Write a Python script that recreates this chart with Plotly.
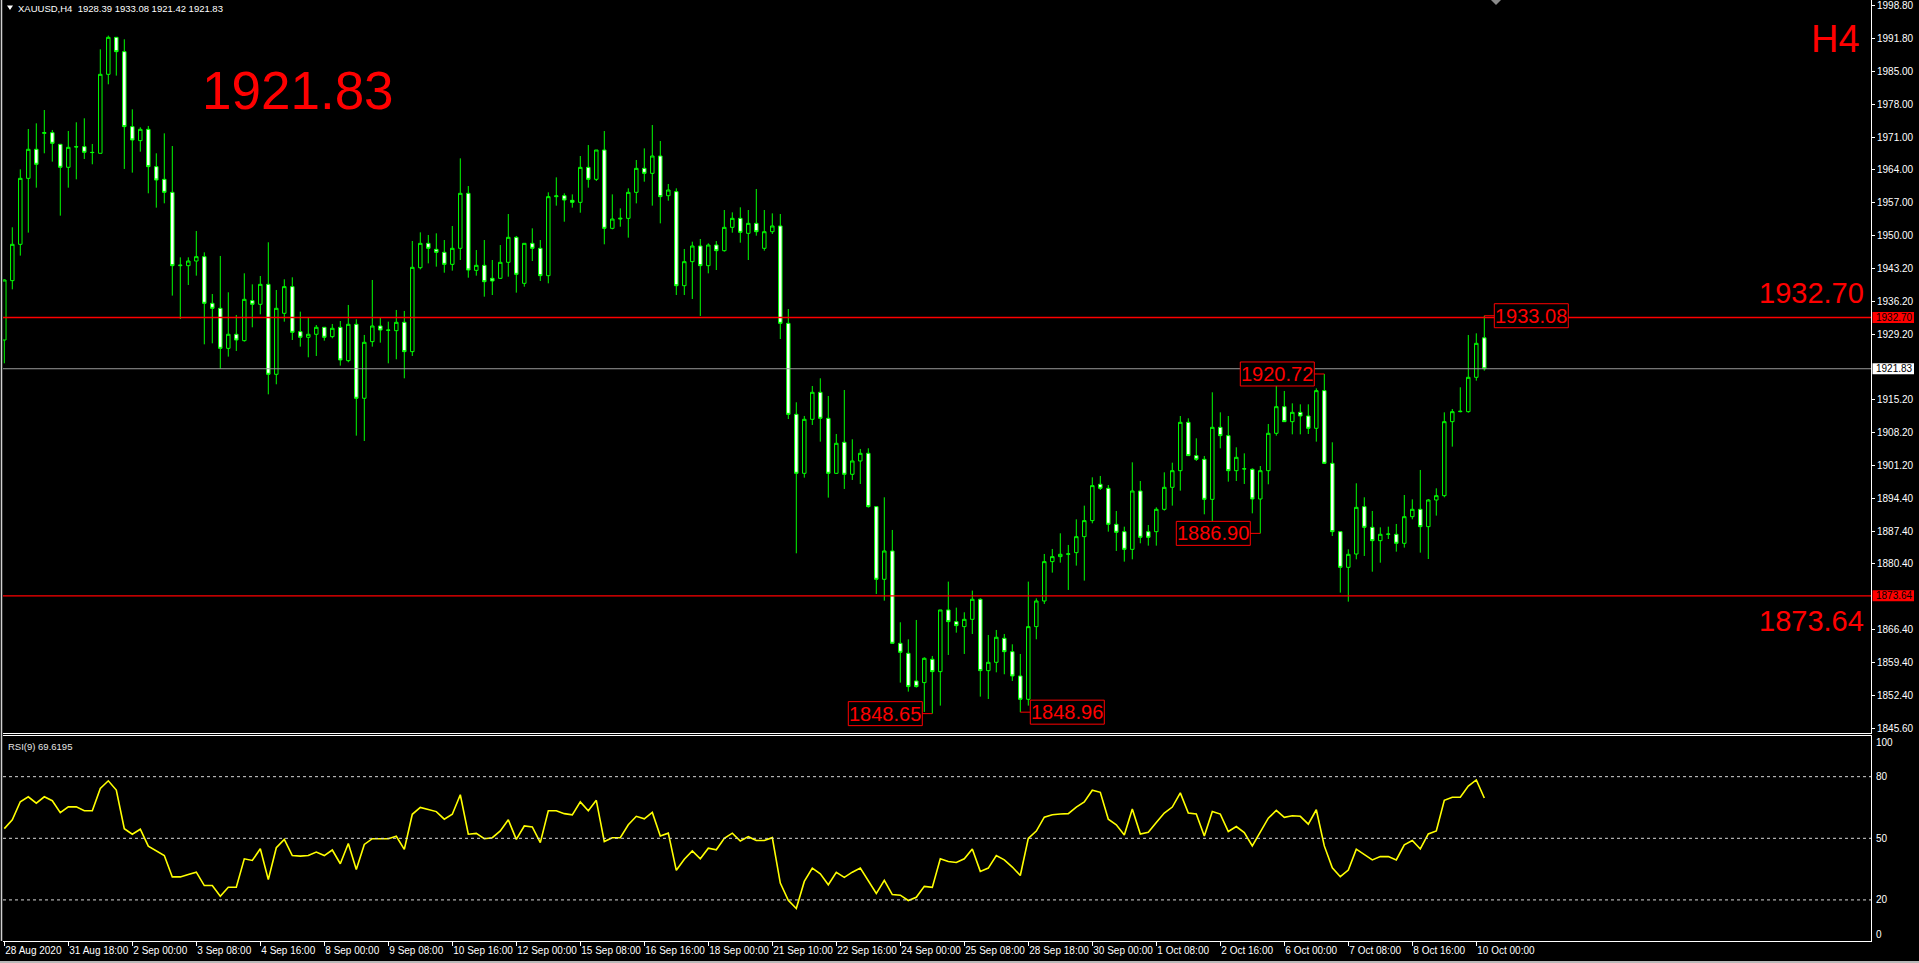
import plotly.graph_objects as go

# ---------------- data ----------------
opens = [1927.93, 1940.52, 1948.23, 1962.23, 1968.39, 1971.78, 1971.92, 1969.45, 1964.57, 1968.95,
         1968.95, 1967.75, 1967.54, 1984.30, 1992.15, 1989.11, 1973.20, 1970.23, 1972.63, 1964.71,
         1962.02, 1959.26, 1943.70, 1943.70, 1944.69, 1945.61, 1935.71, 1934.65, 1926.16, 1929.14,
         1927.79, 1936.28, 1935.50, 1939.74, 1920.65, 1933.59, 1939.25, 1929.70, 1928.50, 1929.14,
         1930.62, 1928.64, 1930.62, 1923.55, 1931.26, 1915.56, 1927.58, 1930.90, 1930.05, 1929.91,
         1931.68, 1925.46, 1943.27, 1948.44, 1947.16, 1946.53, 1943.98, 1947.38, 1959.05, 1942.71,
         1943.77, 1941.01, 1941.01, 1944.41, 1949.71, 1939.95, 1948.44, 1947.38, 1941.58, 1958.34,
         1958.55, 1957.56, 1957.14, 1964.56, 1962.02, 1968.24, 1951.62, 1953.60, 1953.74, 1959.26,
         1964.35, 1963.29, 1966.97, 1958.55, 1959.40, 1939.45, 1944.55, 1947.87, 1943.70, 1948.08,
         1946.88, 1951.83, 1953.74, 1950.56, 1952.68, 1947.38, 1950.91, 1952.12, 1931.46, 1912.16,
         1899.64, 1911.10, 1916.83, 1911.31, 1899.64, 1906.22, 1899.43, 1902.26, 1903.89, 1892.57,
         1877.15, 1883.16, 1863.57, 1861.45, 1855.58, 1855.23, 1860.18, 1857.56, 1870.65, 1868.17,
         1867.11, 1868.66, 1872.91, 1857.77, 1859.54, 1864.63, 1861.80, 1856.64, 1851.69, 1867.11,
         1872.55, 1880.90, 1881.96, 1882.46, 1882.81, 1886.20, 1889.60, 1897.31, 1896.46, 1888.82,
         1887.26, 1883.51, 1895.89, 1887.26, 1887.26, 1892.00, 1896.67, 1900.20, 1910.46, 1903.39,
         1902.61, 1894.12, 1909.40, 1907.63, 1900.20, 1900.56, 1900.49, 1894.19, 1900.20, 1908.13,
         1913.78, 1910.60, 1912.58, 1911.80, 1909.19, 1917.18, 1901.76, 1887.26, 1879.69, 1882.52,
         1892.57, 1888.18, 1885.35, 1886.70, 1886.70, 1884.79, 1890.44, 1892.00, 1888.32, 1893.98,
         1894.90, 1910.60, 1912.72, 1912.72, 1920.01, 1928.39]

highs = [1940.80, 1951.84, 1964.14, 1972.70, 1973.90, 1976.73, 1972.49, 1969.45, 1972.28, 1974.12,
         1974.97, 1969.52, 1989.61, 1992.51, 1992.15, 1991.73, 1976.87, 1973.06, 1973.34, 1967.54,
         1971.78, 1969.09, 1945.47, 1945.47, 1951.06, 1946.53, 1937.69, 1945.76, 1938.05, 1933.24,
         1942.08, 1939.74, 1941.51, 1948.66, 1938.54, 1940.80, 1941.23, 1933.94, 1932.67, 1931.11,
         1930.62, 1931.33, 1931.96, 1935.36, 1932.32, 1929.00, 1940.66, 1932.67, 1931.82, 1934.30,
         1934.09, 1948.94, 1950.77, 1950.21, 1950.56, 1949.14, 1952.12, 1966.47, 1960.60, 1947.02,
         1949.14, 1944.90, 1948.08, 1954.66, 1950.00, 1948.44, 1951.62, 1949.14, 1959.26, 1962.44,
         1959.05, 1958.83, 1966.97, 1969.30, 1968.24, 1972.27, 1958.83, 1955.86, 1960.11, 1966.12,
         1968.59, 1973.55, 1970.15, 1961.03, 1960.11, 1947.24, 1948.79, 1949.36, 1948.44, 1948.93,
         1955.51, 1955.01, 1956.08, 1955.51, 1959.97, 1955.51, 1954.80, 1954.66, 1934.50, 1914.71,
         1911.81, 1918.17, 1919.80, 1916.05, 1907.99, 1917.32, 1906.86, 1904.81, 1904.95, 1892.57,
         1894.55, 1887.62, 1868.03, 1864.42, 1868.52, 1860.60, 1860.89, 1870.65, 1876.66, 1871.14,
         1870.15, 1874.75, 1873.12, 1865.34, 1866.40, 1865.55, 1863.36, 1861.31, 1876.66, 1873.12,
         1882.53, 1883.59, 1886.91, 1884.44, 1889.88, 1892.78, 1898.79, 1899.08, 1897.16, 1891.65,
         1888.32, 1901.97, 1898.01, 1888.68, 1892.42, 1899.85, 1901.90, 1911.80, 1911.31, 1907.07,
         1903.32, 1916.83, 1912.58, 1911.80, 1905.16, 1903.88, 1900.70, 1901.19, 1910.11, 1918.52,
         1917.11, 1914.49, 1914.28, 1914.28, 1917.67, 1920.72, 1906.22, 1887.26, 1883.51, 1897.52,
         1894.55, 1891.65, 1888.18, 1888.32, 1888.89, 1895.04, 1894.12, 1900.35, 1894.19, 1896.46,
         1912.58, 1913.29, 1917.89, 1928.99, 1929.34, 1933.08]

lows = [1922.98, 1938.68, 1945.83, 1950.71, 1960.25, 1967.54, 1965.77, 1954.31, 1960.25, 1962.02,
        1966.34, 1965.21, 1967.54, 1982.18, 1984.02, 1964.22, 1963.44, 1967.89, 1959.05, 1956.01,
        1956.93, 1937.34, 1932.39, 1939.60, 1941.58, 1927.01, 1927.22, 1921.78, 1924.40, 1925.60,
        1927.58, 1930.62, 1933.38, 1916.40, 1918.53, 1931.82, 1927.93, 1926.52, 1924.26, 1924.54,
        1927.79, 1928.29, 1922.49, 1923.20, 1907.63, 1906.50, 1926.52, 1927.37, 1922.98, 1923.83,
        1919.80, 1924.54, 1942.92, 1944.19, 1943.49, 1942.21, 1942.64, 1944.90, 1941.15, 1941.58,
        1937.12, 1937.47, 1940.87, 1941.36, 1937.97, 1939.24, 1944.69, 1940.45, 1939.95, 1956.43,
        1953.03, 1956.01, 1954.94, 1960.25, 1961.66, 1948.23, 1951.41, 1951.97, 1949.64, 1956.92,
        1961.52, 1956.43, 1952.68, 1957.49, 1937.47, 1937.47, 1936.63, 1933.02, 1942.07, 1942.78,
        1946.67, 1950.70, 1948.58, 1944.90, 1950.06, 1946.88, 1950.42, 1928.14, 1911.16, 1882.67,
        1898.72, 1909.90, 1906.36, 1894.48, 1899.50, 1896.32, 1898.23, 1897.38, 1892.36, 1874.04,
        1872.62, 1863.57, 1855.23, 1853.32, 1854.17, 1849.00, 1848.65, 1850.35, 1861.10, 1865.83,
        1861.31, 1865.55, 1852.26, 1851.76, 1857.42, 1857.00, 1855.58, 1848.96, 1850.35, 1864.42,
        1871.92, 1878.57, 1880.69, 1874.89, 1880.05, 1876.87, 1889.03, 1896.11, 1887.26, 1883.16,
        1880.90, 1881.39, 1884.79, 1884.29, 1884.29, 1891.72, 1892.78, 1895.96, 1903.32, 1902.26,
        1890.94, 1889.38, 1904.94, 1897.87, 1898.01, 1897.38, 1891.15, 1886.90, 1897.31, 1907.63,
        1910.60, 1907.91, 1907.91, 1907.98, 1906.36, 1901.62, 1886.34, 1874.32, 1872.41, 1881.39,
        1882.10, 1878.77, 1880.68, 1885.70, 1883.02, 1883.87, 1889.88, 1882.81, 1881.46, 1890.66,
        1894.55, 1905.30, 1912.58, 1912.51, 1919.30, 1921.42]

closes = [1940.66, 1948.23, 1962.23, 1968.39, 1965.21, 1971.92, 1969.66, 1964.57, 1968.81, 1968.90,
          1967.75, 1967.70, 1984.30, 1992.15, 1989.11, 1973.20, 1970.37, 1972.63, 1964.71, 1961.88,
          1959.26, 1943.70, 1943.80, 1944.69, 1945.61, 1935.71, 1934.65, 1926.16, 1929.14, 1927.93,
          1936.56, 1935.50, 1939.74, 1920.65, 1934.65, 1939.25, 1929.56, 1928.50, 1929.14, 1930.62,
          1928.50, 1930.41, 1923.69, 1931.26, 1915.56, 1927.44, 1930.90, 1930.05, 1930.00, 1931.68,
          1925.46, 1943.35, 1948.44, 1947.38, 1946.53, 1943.98, 1947.38, 1959.05, 1942.78, 1943.77,
          1940.30, 1940.45, 1944.41, 1949.71, 1941.86, 1948.44, 1947.38, 1941.58, 1958.34, 1958.50,
          1957.63, 1957.14, 1964.56, 1962.02, 1968.24, 1951.62, 1953.60, 1953.75, 1959.26, 1964.35,
          1963.29, 1966.97, 1958.34, 1959.75, 1939.45, 1944.55, 1947.87, 1943.70, 1948.08, 1946.88,
          1951.83, 1953.74, 1950.77, 1952.68, 1950.91, 1950.91, 1952.12, 1931.46, 1912.15, 1899.64,
          1911.10, 1916.83, 1911.31, 1899.64, 1906.01, 1899.43, 1902.26, 1903.89, 1892.57, 1877.15,
          1883.16, 1863.57, 1861.66, 1854.38, 1854.38, 1860.39, 1857.56, 1870.65, 1868.17, 1867.32,
          1868.66, 1872.91, 1857.77, 1859.54, 1864.85, 1861.80, 1856.64, 1851.69, 1867.11, 1872.55,
          1880.90, 1881.96, 1882.46, 1882.55, 1886.20, 1889.60, 1897.03, 1896.46, 1888.82, 1887.12,
          1883.51, 1895.89, 1886.06, 1886.06, 1892.00, 1896.67, 1900.20, 1910.46, 1903.39, 1902.61,
          1894.12, 1909.40, 1907.63, 1900.20, 1903.03, 1900.60, 1894.19, 1900.20, 1908.13, 1913.78,
          1910.60, 1912.58, 1911.80, 1909.19, 1917.18, 1901.76, 1887.26, 1879.69, 1882.45, 1892.42,
          1888.18, 1885.35, 1886.70, 1886.75, 1884.79, 1890.44, 1892.00, 1888.32, 1893.98, 1894.90,
          1910.60, 1912.72, 1912.80, 1920.01, 1927.22, 1921.83]

rsi = [54.7, 59.0, 67.8, 70.2, 67.1, 70.2, 68.3, 62.5, 65.3, 65.3,
       63.4, 63.4, 74.3, 78.0, 73.5, 54.7, 52.0, 54.4, 46.2, 43.8,
       41.6, 31.2, 31.2, 32.4, 33.5, 27.0, 27.0, 21.8, 26.2, 26.2,
       40.0, 39.2, 44.9, 29.9, 45.4, 49.5, 41.6, 41.3, 41.6, 43.3,
       41.6, 44.3, 37.6, 47.5, 34.8, 47.0, 49.8, 49.8, 49.8, 51.0,
       44.6, 61.7, 65.0, 64.0, 63.0, 59.3, 61.7, 71.2, 52.0, 52.4,
       49.8, 50.3, 53.6, 59.0, 49.5, 56.0, 55.5, 47.9, 63.4, 63.4,
       62.0, 61.4, 67.7, 63.4, 68.5, 48.4, 50.3, 50.3, 56.6, 60.7,
       59.5, 62.6, 51.1, 52.5, 34.4, 39.8, 43.9, 40.0, 45.2, 44.4,
       50.0, 52.5, 48.7, 50.8, 48.9, 48.9, 50.3, 28.2, 19.8, 15.8,
       29.0, 35.5, 32.7, 27.4, 33.4, 31.0, 33.5, 35.5, 29.0, 23.1,
       29.5, 22.6, 22.3, 19.7, 21.3, 26.6, 26.1, 40.0, 38.7, 38.2,
       40.0, 44.8, 33.9, 35.5, 41.6, 39.5, 36.0, 31.9, 50.0, 53.5,
       60.3, 61.5, 61.8, 62.0, 65.2, 67.7, 73.4, 72.4, 59.3, 56.6,
       51.6, 64.3, 52.1, 52.9, 57.7, 62.3, 65.2, 72.1, 62.3, 61.8,
       51.1, 63.1, 61.8, 53.3, 55.7, 52.8, 46.3, 52.8, 59.8, 63.6,
       60.2, 61.0, 60.7, 56.9, 63.9, 46.3, 35.6, 31.3, 34.5, 44.7,
       41.9, 39.5, 41.1, 41.1, 39.5, 46.8, 48.9, 44.8, 52.1, 53.6,
       68.5, 70.0, 70.0, 75.4, 78.4, 69.6]

date_labels = ["28 Aug 2020", "31 Aug 18:00", "2 Sep 00:00", "3 Sep 08:00", "4 Sep 16:00",
               "8 Sep 00:00", "9 Sep 08:00", "10 Sep 16:00", "12 Sep 00:00", "15 Sep 08:00",
               "16 Sep 16:00", "18 Sep 00:00", "21 Sep 10:00", "22 Sep 16:00", "24 Sep 00:00",
               "25 Sep 08:00", "28 Sep 18:00", "30 Sep 00:00", "1 Oct 08:00", "2 Oct 16:00",
               "6 Oct 00:00", "7 Oct 08:00", "8 Oct 16:00", "10 Oct 00:00"]
label_step = 8

price_ticks = [1998.80, 1991.80, 1985.00, 1978.00, 1971.00, 1964.00, 1957.00, 1950.00,
               1943.20, 1936.20, 1929.20, 1915.20, 1908.20, 1901.20, 1894.40, 1887.40,
               1880.40, 1866.40, 1859.40, 1852.40, 1845.60]
rsi_ticks = [100, 80, 50, 20, 0]
rsi_levels = [80, 50, 20]

symbol = "XAUUSD,H4"
last_ohlc = [1928.39, 1933.08, 1921.42, 1921.83]
rsi_name = "RSI(9)"
rsi_last = 69.6195
timeframe = "H4"
level_lines = [1932.70, 1873.64]
bid_price = 1921.83

mark_texts = ["1848.65", "1848.96", "1920.72", "1886.90", "1933.08"]
mark_bars = [116, 127, 165, 157, 185]
mark_prices = [1848.65, 1848.96, 1920.72, 1886.90, 1933.08]
mark_sides = [-1, 1, -1, -1, 1]

# ---------------- layout geometry (pixels of the 1919x963 page) ----------------
W, H = 1919, 963
PLOT_L, PLOT_R = 3, 1871
MAIN_T, MAIN_B = 0, 733
RSI_T, RSI_B = 735.6, 941
BAR_PX, BAR0_PX = 8, 4.3


def fx(px):
    return px / W


def fy(py):
    return 1 - py / H


FONT = "Liberation Sans, Arial, sans-serif"
GREEN = "#00ff00"
RED = "#ff0000"

bars = list(range(len(opens)))
x_range = [(PLOT_L - BAR0_PX) / BAR_PX, (PLOT_R - BAR0_PX) / BAR_PX]
price_range = [1844.54, 2000.07]

fig = go.Figure()

fig.add_trace(go.Candlestick(
    x=bars, open=opens, high=highs, low=lows, close=closes,
    increasing=dict(line=dict(color=GREEN, width=1), fillcolor="#000000"),
    decreasing=dict(line=dict(color=GREEN, width=1), fillcolor="#ffffff"),
    whiskerwidth=0, xaxis="x", yaxis="y", hoverinfo="skip", showlegend=False,
))

fig.add_trace(go.Scatter(
    x=bars, y=rsi, mode="lines", line=dict(color="#ffff00", width=1.6),
    xaxis="x2", yaxis="y2", hoverinfo="skip", showlegend=False,
))

shapes = []
annotations = []

# RSI levels
for lv in rsi_levels:
    shapes.append(dict(type="line", xref="x2 domain", yref="y2", x0=0, x1=1, y0=lv, y1=lv,
                       line=dict(color="#d8d8d8", width=1, dash="3px,3px")))

# RSI scale labels (MT4 keeps the extreme labels inside the pane)
for v in rsi_ticks:
    sh = -7 if v == 100 else (7 if v == 0 else 0)
    annotations.append(dict(text=str(v), x=fx(1874), y=v, yshift=sh, xref="paper", yref="y2",
                            xanchor="left", yanchor="middle", showarrow=False,
                            font=dict(family=FONT, size=10, color="#ffffff")))

# horizontal level lines and bid line
for lv in level_lines:
    shapes.append(dict(type="line", xref="x domain", yref="y", x0=0, x1=1, y0=lv, y1=lv,
                       line=dict(color=RED, width=1.4)))
shapes.append(dict(type="line", xref="x domain", yref="y", x0=0, x1=1, y0=bid_price, y1=bid_price,
                   line=dict(color="#9a9a9a", width=1)))

# price marks (boxed labels)
for t, b, p, s in zip(mark_texts, mark_bars, mark_prices, mark_sides):
    near, far = 10 * s, 84 * s
    shapes.append(dict(type="rect", xref="x", yref="y", xsizemode="pixel", ysizemode="pixel",
                       xanchor=b, yanchor=p, x0=min(near, far), x1=max(near, far), y0=-12, y1=12,
                       line=dict(color=RED, width=1), fillcolor="#000000"))
    shapes.append(dict(type="line", xref="x", yref="y", xsizemode="pixel",
                       xanchor=b, x0=0, x1=near, y0=p, y1=p, line=dict(color=RED, width=1)))
    annotations.append(dict(text=t, x=b, y=p, xref="x", yref="y", xshift=47 * s, yshift=0,
                            xanchor="center", yanchor="middle", showarrow=False,
                            font=dict(family=FONT, size=20, color=RED)))

# axis value boxes
for val, bg in [(level_lines[0], RED), (bid_price, "#ffffff"), (level_lines[1], RED)]:
    shapes.append(dict(type="rect", xref="paper", yref="y", ysizemode="pixel", yanchor=val,
                       x0=fx(1872.5), x1=fx(1914), y0=-5.5, y1=5.5,
                       line=dict(width=0), fillcolor=bg))
    annotations.append(dict(text=f"{val:.2f}", x=fx(1874), y=val, xref="paper", yref="y",
                            xanchor="left", yanchor="middle", showarrow=False,
                            font=dict(family=FONT, size=10, color="#000000")))

# big level captions
for val, sh in [(level_lines[0], 25), (level_lines[1], -25)]:
    annotations.append(dict(text=f"{val:.2f}", x=fx(1866), y=val, yshift=sh, xref="paper", yref="y",
                            xanchor="right", yanchor="middle", showarrow=False,
                            font=dict(family=FONT, size=29, color=RED)))

annotations.append(dict(text=f"{bid_price:.2f}", x=fx(200), y=fy(90), xref="paper", yref="paper",
                        xanchor="left", yanchor="middle", showarrow=False,
                        font=dict(family=FONT, size=53, color=RED)))
annotations.append(dict(text=timeframe, x=fx(1862), y=fy(38.5), xref="paper", yref="paper",
                        xanchor="right", yanchor="middle", showarrow=False,
                        font=dict(family=FONT, size=38, color=RED)))

# header and indicator caption
header = symbol + "\u00a0\u00a0" + " ".join(f"{v:.2f}" for v in last_ohlc)
annotations.append(dict(text=header, x=fx(16), y=fy(8), xref="paper", yref="paper",
                        xanchor="left", yanchor="middle", showarrow=False,
                        font=dict(family=FONT, size=9.5, color="#ffffff")))
annotations.append(dict(text=f"{rsi_name} {rsi_last:.4f}", x=fx(6), y=fy(746), xref="paper", yref="paper",
                        xanchor="left", yanchor="middle", showarrow=False,
                        font=dict(family=FONT, size=9.5, color="#e6e6e6")))

# header triangle
shapes.append(dict(type="path", xref="paper", yref="paper",
                   path=f"M {fx(7)},{fy(5.5)} L {fx(13)},{fy(5.5)} L {fx(10)},{fy(10)} Z",
                   fillcolor="#ffffff", line=dict(width=0)))
# chart shift marker
shapes.append(dict(type="path", xref="paper", yref="paper",
                   path=f"M {fx(1491)},{fy(0)} L {fx(1501)},{fy(0)} L {fx(1496)},{fy(5)} Z",
                   fillcolor="#8a8a8a", line=dict(width=0)))
# left frame line
shapes.append(dict(type="line", xref="paper", yref="paper", x0=fx(1.5), x1=fx(1.5), y0=fy(0), y1=fy(941),
                   line=dict(color="#d0d0d0", width=1.5)))
# window bottom border
shapes.append(dict(type="rect", xref="paper", yref="paper", x0=0, x1=1, y0=0, y1=fy(961),
                   line=dict(width=0), fillcolor="#b8b8b8"))

axis_font = dict(family=FONT, size=10, color="#ffffff")

fig.update_layout(
    width=W, height=H, autosize=False,
    margin=dict(l=0, r=0, t=0, b=0, pad=0),
    paper_bgcolor="#000000", plot_bgcolor="#000000",
    showlegend=False, boxgap=0.38,
    xaxis=dict(domain=[fx(PLOT_L), fx(PLOT_R)], range=x_range, anchor="y",
               showgrid=False, zeroline=False, showticklabels=False, ticks="",
               showline=True, linecolor="#ffffff", linewidth=1,
               rangeslider=dict(visible=False), fixedrange=True),
    yaxis=dict(domain=[fy(MAIN_B), fy(MAIN_T)], range=price_range, anchor="x", side="right",
               tickvals=price_ticks, ticktext=[f"{v:.2f}" for v in price_ticks],
               ticks="outside", ticklen=3, tickcolor="#ffffff", tickfont=axis_font,
               showgrid=False, zeroline=False, showline=True, linecolor="#ffffff", linewidth=1,
               fixedrange=True),
    xaxis2=dict(domain=[fx(PLOT_L), fx(PLOT_R)], range=x_range, anchor="y2",
                tickvals=bars[::label_step], ticktext=date_labels, tickangle=0,
                ticks="outside", ticklen=4, tickcolor="#ffffff", tickfont=axis_font,
                ticklabelposition="outside right",
                showgrid=False, zeroline=False, showline=True, linecolor="#ffffff", linewidth=1,
                mirror=True, fixedrange=True),
    yaxis2=dict(domain=[fy(RSI_B), fy(RSI_T)], range=[0, 100], anchor="x2", side="right",
                showticklabels=False, ticks="",
                showgrid=False, zeroline=False, showline=True, linecolor="#ffffff", linewidth=1,
                fixedrange=True),
    shapes=shapes,
    annotations=annotations,
)

fig.write_html("out.html",
               config={"displayModeBar": False, "staticPlot": True},
               post_script="document.body.style.margin='0';document.body.style.overflow='hidden';")
